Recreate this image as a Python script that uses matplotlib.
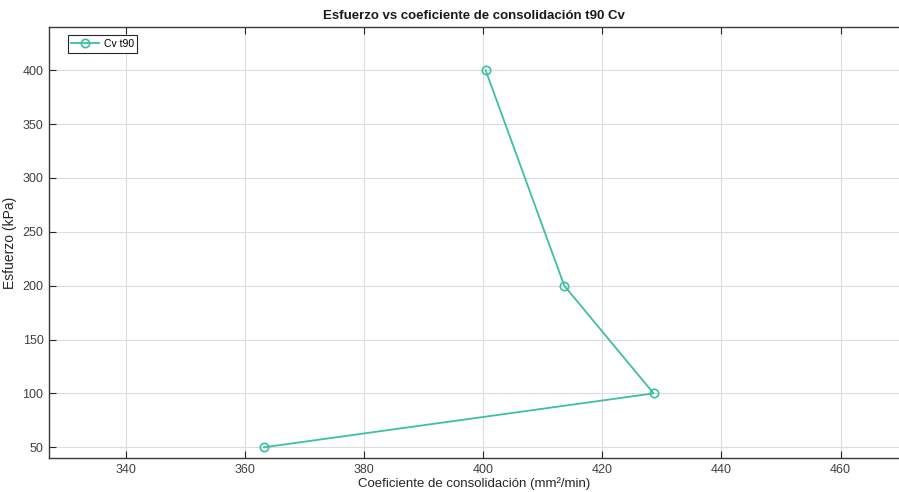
import matplotlib.pyplot as plt

# datos
esfuerzo = [400, 200, 100, 50]
cv_t90 = [400.4, 413.6, 428.6, 363.2]
xticks = [340, 360, 380, 400, 420, 440, 460]
yticks = [50, 100, 150, 200, 250, 300, 350, 400]

plt.rcParams['font.family'] = ['Liberation Sans', 'DejaVu Sans']

color = '#3dbfa3'
eje = '#262626'

fig = plt.figure(figsize=(8.99, 4.92), dpi=100)
ax = fig.add_axes([0.0545, 0.069, 0.9455, 0.876])

ax.plot(cv_t90, esfuerzo, '-o', color=color, lw=1.3, ms=6,
        mfc='none', mew=1.2, label='Cv t90')

ax.set_xlim(327.1, 469.8)
ax.set_ylim(40, 440)
ax.set_xticks(xticks)
ax.set_yticks(yticks)

ax.grid(True, color='#dcdcdc', lw=0.8)
ax.set_axisbelow(True)
ax.tick_params(direction='in', top=True, right=False, length=5, width=0.8,
               colors=eje, labelsize=9, labelcolor='#404040', pad=4)
for s in ['left', 'bottom', 'top']:
    ax.spines[s].set_color('#3a3a3a')
    ax.spines[s].set_linewidth(1.0)
ax.spines['right'].set_visible(False)

ax.set_xlabel('Coeficiente de consolidación (mm²/min)', fontsize=9.5,
              color='#262626', labelpad=1)
ax.set_ylabel('Esfuerzo (kPa)', fontsize=10, color='#262626', labelpad=4)
ax.set_title('Esfuerzo vs coeficiente de consolidación t90 Cv', fontsize=9.5,
             fontweight='bold', color='#1a1a1a', pad=6)

leg = ax.legend(loc='upper left', bbox_to_anchor=(0.022, 0.981),
                borderaxespad=0, fontsize=7.5, handlelength=2.7,
                fancybox=False, framealpha=1, edgecolor='#262626',
                borderpad=0.35, handletextpad=0.4)
leg.get_frame().set_linewidth(0.8)

fig.savefig('out.png', dpi=100)
